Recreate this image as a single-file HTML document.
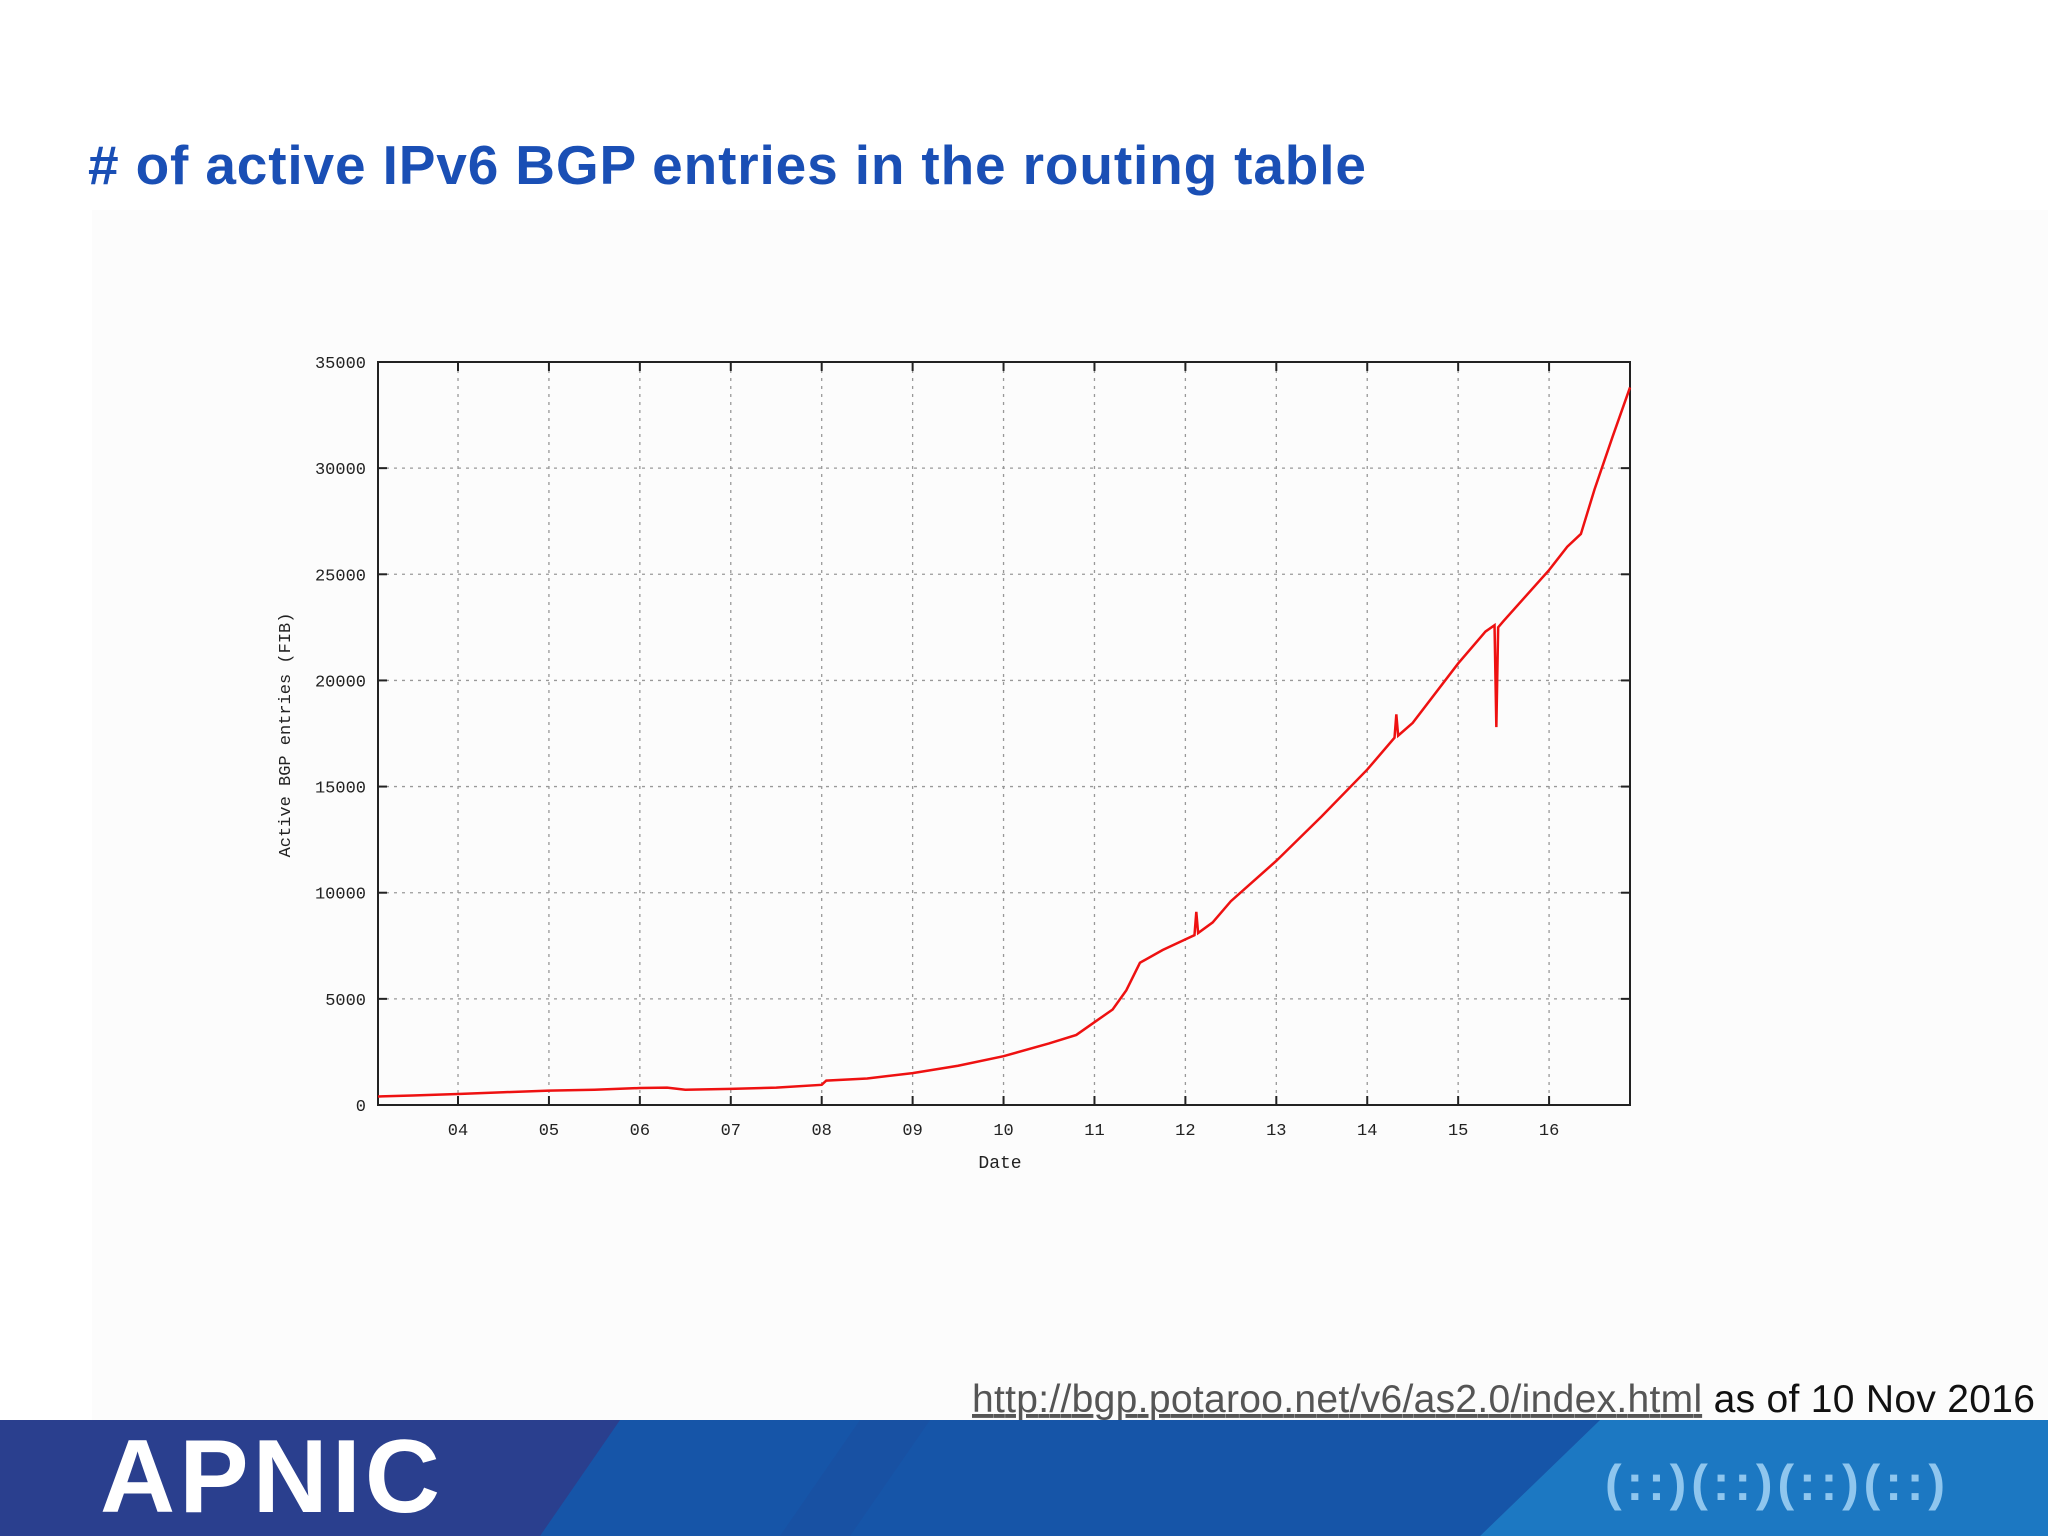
<!DOCTYPE html>
<html><head><meta charset="utf-8"><style>
html,body{margin:0;padding:0;background:#fff;}
svg{display:block;}
</style></head><body>
<svg id="page" width="2048" height="1536" viewBox="0 0 2048 1536" xmlns="http://www.w3.org/2000/svg">
<rect x="0" y="0" width="2048" height="1536" fill="#ffffff"/>
<rect x="92" y="210" width="1956" height="1210" fill="#fcfcfc"/>
<text x="88" y="184" font-family="Liberation Sans, sans-serif" font-weight="bold" font-size="55" fill="#1a4fb5" textLength="1278"># of active IPv6 BGP entries in the routing table</text>
<g id="chart"></g>
<g>
<rect x="0" y="1420" width="2048" height="116" fill="#2a3f8e"/>
<polygon points="620,1420 1600,1420 1480,1536 540,1536" fill="#1655a8"/>
<polygon points="1600,1420 2048,1420 2048,1536 1480,1536" fill="#1c78c2"/>
<polygon points="860,1420 930,1420 850,1536 780,1536" fill="#1a4ea0" opacity="0.6"/>
<text x="100" y="1512" font-family="Liberation Sans, sans-serif" font-weight="bold" font-size="104" fill="#ffffff" textLength="340">APNIC</text>
<text x="1605" y="1500" font-family="Liberation Sans, sans-serif" font-weight="bold" font-size="50" fill="#8fc6ee" textLength="340">(::)(::)(::)(::)</text>
</g>
<text x="972" y="1412" font-family="Liberation Sans Narrow, Liberation Sans, sans-serif" font-size="39" fill="#111" textLength="1063"><tspan fill="#555" text-decoration="underline">http://bgp.potaroo.net/v6/as2.0/index.html</tspan> as of 10 Nov 2016</text>
</svg>
<script>
const yearTicks = [2004,2005,2006,2007,2008,2009,2010,2011,2012,2013,2014,2015,2016];
const yearLabels = ["04","05","06","07","08","09","10","11","12","13","14","15","16"];
const yTicks = [0,5000,10000,15000,20000,25000,30000,35000];
const dates = [2003.12,2003.5,2004,2004.5,2005,2005.5,2006,2006.3,2006.5,2007,2007.5,2008,2008.05,2008.5,2009,2009.5,2010,2010.5,2010.8,2011,2011.2,2011.35,2011.5,2011.75,2012,2012.1,2012.12,2012.14,2012.3,2012.5,2013,2013.5,2014,2014.3,2014.32,2014.34,2014.5,2015,2015.3,2015.4,2015.42,2015.44,2015.5,2016,2016.2,2016.3,2016.35,2016.5,2016.7,2016.89];
const entries = [400,450,520,600,680,720,800,820,720,760,820,950,1150,1250,1500,1850,2300,2900,3300,3900,4500,5400,6700,7300,7800,8000,9100,8100,8600,9600,11500,13600,15800,17300,18400,17400,18000,20800,22300,22600,17800,22500,22800,25200,26300,26700,26900,29000,31500,33800];
const NS='http://www.w3.org/2000/svg';
const L=378,R=1630,T=362,B=1105,X0=2003.12,X1=2016.89,YMAX=35000;
const xs=v=>L+(v-X0)/(X1-X0)*(R-L);
const ys=v=>B-v/YMAX*(B-T);
const g=document.getElementById('chart');
function mk(tag,at){const e=document.createElementNS(NS,tag);for(const k in at)e.setAttribute(k,at[k]);g.appendChild(e);return e;}
const font='Liberation Mono, DejaVu Sans Mono, monospace';
yTicks.forEach(v=>{
  if(v>0&&v<YMAX){const gl=mk('line',{x1:L,x2:R,y1:ys(v),y2:ys(v),stroke:'#999','stroke-dasharray':'3,5','stroke-width':1.3});
  
  }
  const t=mk('text',{x:L-12,y:ys(v)+6,'text-anchor':'end','font-family':font,'font-size':17,fill:'#222'});
  t.textContent=v;
  
  
  mk('line',{x1:L,x2:L+9,y1:ys(v),y2:ys(v),stroke:'#222','stroke-width':2});
  mk('line',{x1:R,x2:R-9,y1:ys(v),y2:ys(v),stroke:'#222','stroke-width':2});
});
yearTicks.forEach((v,i)=>{
  const gl=mk('line',{x1:xs(v),x2:xs(v),y1:T,y2:B,stroke:'#999','stroke-dasharray':'3,5','stroke-width':1.3});
  
  
  mk('line',{x1:xs(v),x2:xs(v),y1:B,y2:B-9,stroke:'#222','stroke-width':2});
  mk('line',{x1:xs(v),x2:xs(v),y1:T,y2:T+9,stroke:'#222','stroke-width':2});
  const t=mk('text',{x:xs(v),y:B+30,'text-anchor':'middle','font-family':font,'font-size':17,fill:'#222'});
  t.textContent=yearLabels[i];
  
  
});
const box=mk('rect',{x:L,y:T,width:R-L,height:B-T,fill:'none',stroke:'#222','stroke-width':2});


const line=mk('polyline',{points:dates.map((d,i)=>xs(d)+','+ys(entries[i])).join(' '),fill:'none',stroke:'#ee1111','stroke-width':2.5});


const xt=mk('text',{x:1000,y:1168,'text-anchor':'middle','font-family':font,'font-size':18,fill:'#222'});
xt.textContent='Date';


const yt=mk('text',{x:0,y:0,'text-anchor':'middle','font-family':font,'font-size':17,fill:'#222',transform:'translate(290,735) rotate(-90)'});
yt.textContent='Active BGP entries (FIB)';


</script>
</body></html>
